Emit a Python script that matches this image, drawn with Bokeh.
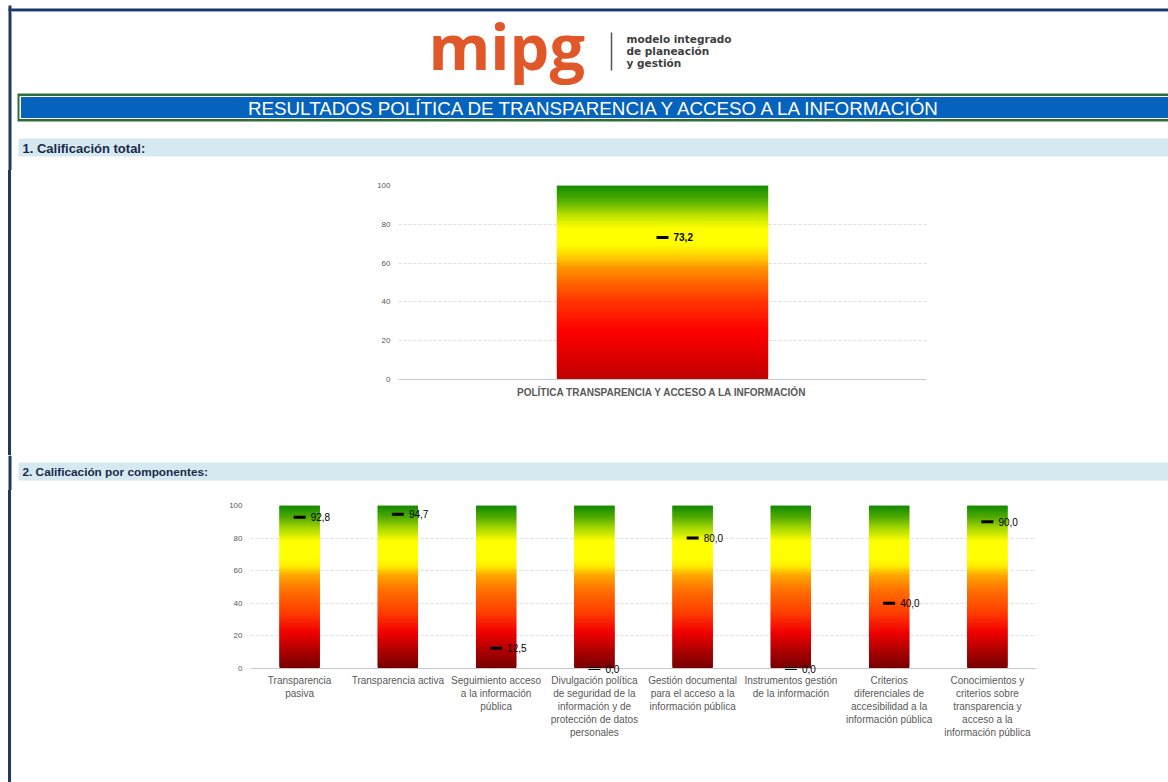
from bokeh.plotting import figure
from bokeh.layouts import row
from bokeh.models import Range1d, FactorRange, ColumnDataSource, LabelSet, Spacer, Span
from bokeh.core.properties import value
from bokeh.embed import file_html
from bokeh.resources import INLINE

# ---------------- data ----------------
total_category = ["POLÍTICA TRANSPARENCIA Y ACCESO A LA INFORMACIÓN"]
total_score = [73.2]

component_labels = [
    "Transparencia\npasiva",
    "Transparencia activa",
    "Seguimiento acceso\na la información\npública",
    "Divulgación política\nde seguridad de la\ninformación y de\nprotección de datos\npersonales",
    "Gestión documental\npara el acceso a la\ninformación pública",
    "Instrumentos gestión\nde la información",
    "Criterios\ndiferenciales de\naccesibilidad a la\ninformación pública",
    "Conocimientos y\ncriterios sobre\ntransparencia y\nacceso a la\ninformación pública",
]
component_scores = [92.8, 94.7, 12.5, 0.0, 80.0, 0.0, 40.0, 90.0]

scale_max = 100
y_ticks = [0, 20, 40, 60, 80, 100]

title_text = "RESULTADOS POLÍTICA DE TRANSPARENCIA Y ACCESO A LA INFORMACIÓN"
section1_text = "1. Calificación total:"
section2_text = "2. Calificación por componentes:"
logo_word = "mipg"
logo_lines = ["modelo integrado", "de planeación", "y gestión"]

# ---------------- style ----------------
NAVY = "#1F3864"
FONT_NAME = "Liberation Sans"
FONT = value(FONT_NAME)
GRAY_TXT = "#595959"
PAGE_W = 1168

stops_total = [(0, "#C00000"), (15, "#E60000"), (25, "#FF0000"), (40, "#FF3300"),
               (50, "#FF6600"), (58, "#FF9900"), (65, "#FFDD00"), (70, "#FFFF00"),
               (78, "#FFFF00"), (85, "#B8E000"), (92, "#55B000"), (100, "#128C00")]
stops_comp = [(0, "#760000"), (10, "#A80000"), (22, "#F00000"), (35, "#FF4000"),
              (48, "#FF7000"), (57, "#FFA500"), (63, "#FFEE00"), (68, "#FFFF00"),
              (78, "#FFFF00"), (86, "#A8D800"), (93, "#50AA00"), (100, "#128A00")]


def hex2rgb(h):
    h = h.lstrip("#")
    return tuple(int(h[i:i + 2], 16) for i in (0, 2, 4))


def color_at(stops, v):
    for (a, ca), (b, cb) in zip(stops[:-1], stops[1:]):
        if a <= v <= b:
            t = 0 if b == a else (v - a) / (b - a)
            r1, g1, b1 = hex2rgb(ca)
            r2, g2, b2 = hex2rgb(cb)
            return "#%02x%02x%02x" % (round(r1 + (r2 - r1) * t), round(g1 + (g2 - g1) * t),
                                      round(b1 + (b2 - b1) * t))
    return stops[-1][1]


def gradient_bars(p, cats, width, stops, n=100):
    # each slice overlaps the next one, which is drawn on top -> no seams
    step = scale_max / n
    xs, bots, tops, cols = [], [], [], []
    for c in cats:
        for i in range(n):
            b = step * i
            xs.append(c)
            bots.append(b)
            tops.append(min(b + 2.5 * step, scale_max))
            cols.append(color_at(stops, b + step / 2))
    p.vbar(x=xs, bottom=bots, top=tops, width=width, fill_color=cols, line_color=None)


def fmt(v):
    return ("%.1f" % v).replace(".", ",")


def make_chart(cats, scores, width, height, left, right, top, data_px, pad_px, bar_w, stops,
               bold_label, cat_size, cat_bold, cat_standoff):
    y_start = -pad_px * scale_max / data_px
    bottom = height - top - data_px - pad_px
    p = figure(x_range=FactorRange(*cats), y_range=Range1d(y_start, scale_max),
               width=width, height=height, output_backend="svg", toolbar_location=None,
               min_border_left=left, min_border_right=right, min_border_top=top,
               min_border_bottom=bottom)
    p.outline_line_color = None
    p.background_fill_color = "white"
    p.border_fill_color = "white"
    p.xgrid.grid_line_color = None
    p.ygrid.grid_line_color = "#DDDDDD"
    p.ygrid.grid_line_dash = "3 2"
    p.yaxis.ticker = y_ticks
    p.yaxis.axis_line_color = None
    p.yaxis.major_tick_line_color = None
    p.yaxis.minor_tick_line_color = None
    p.yaxis.major_tick_out = 0
    p.yaxis.major_label_standoff = 8
    p.yaxis.major_label_text_font = FONT_NAME
    p.yaxis.major_label_text_font_size = "8px"
    p.yaxis.major_label_text_color = GRAY_TXT
    p.xaxis.axis_line_color = None
    p.xaxis.major_tick_line_color = None
    p.xaxis.major_tick_out = 0
    p.xaxis.major_label_standoff = cat_standoff
    p.xaxis.major_label_text_font = FONT_NAME
    p.xaxis.major_label_text_font_size = cat_size
    p.xaxis.major_label_text_color = GRAY_TXT
    p.xaxis.major_label_text_font_style = "bold" if cat_bold else "normal"
    p.xaxis.major_label_text_line_height = 1.2
    p.x_range.range_padding = 0
    gradient_bars(p, cats, bar_w, stops)
    # category baseline at zero
    p.add_layout(Span(location=0, dimension="width", line_color="#C8C8C8", line_width=1))
    p.scatter(x=cats, y=scores, marker="dash", size=12, line_color="black", line_width=3)
    src = ColumnDataSource(dict(x=cats, y=scores, t=[fmt(v) for v in scores]))
    p.add_layout(LabelSet(x="x", y="y", text="t", source=src, x_offset=11,
                          text_baseline="middle", text_font=value(FONT_NAME),
                          text_font_size="10px",
                          text_font_style="bold" if bold_label else "normal",
                          text_color="black"))
    return p


def band_fig(y0, y1, rule_top=None):
    f = figure(width=PAGE_W, height=y1 - y0, x_range=Range1d(0, PAGE_W),
               y_range=Range1d(y1, y0), output_backend="svg", toolbar_location=None,
               min_border=0, x_axis_type=None, y_axis_type=None)
    f.outline_line_color = None
    f.xgrid.visible = False
    f.ygrid.visible = False
    f.quad(left=[8], right=[11], top=[y0 if rule_top is None else rule_top], bottom=[y1],
           fill_color=NAVY, line_color=None)
    return f


def left_rule(h):
    return [Spacer(width=8, height=h),
            Spacer(width=3, height=h, styles={"background-color": NAVY})]


# ---------------- header (page y 0..170) ----------------
hdr = band_fig(0, 170, rule_top=5)
hdr.quad(left=[8], right=[PAGE_W], top=[8], bottom=[10.5], fill_color=NAVY, line_color=None)
hdr.quad(left=[11], right=[PAGE_W], top=[10.5], bottom=[11.5], fill_color="#8EA9DB",
         line_color=None)
# logo
hdr.text(x=[428], y=[45], text=[logo_word], text_font=value("Open Sans"),
         text_font_style="bold", text_font_size="63px", text_color="#E0582A",
         text_baseline="middle")
hdr.segment(x0=[611], y0=[32], x1=[611], y1=[70], line_color="#555555", line_width=1.5)
hdr.text(x=[626] * 3, y=[38, 50, 62], text=logo_lines, text_font=value("DejaVu Sans"),
         text_font_style="bold", text_font_size="10.5px", text_color="#404040",
         text_baseline="middle")
# title banner
hdr.quad(left=[17], right=[PAGE_W], top=[93], bottom=[121], fill_color="#2E6E3E", line_color=None)
hdr.quad(left=[19], right=[PAGE_W], top=[95.5], bottom=[118.5], fill_color="white",
         line_color=None)
hdr.quad(left=[20.5], right=[PAGE_W], top=[96.5], bottom=[117.5], fill_color="#0563BE",
         line_color=None)
hdr.text(x=[596], y=[107.5], text=[title_text], text_font=FONT, text_font_size="18.8px",
         text_color="white", text_align="center", text_baseline="middle")
# section 1 band
hdr.quad(left=[18], right=[PAGE_W], top=[138], bottom=[156], fill_color="#D6E9F0",
         line_color=None)
hdr.text(x=[22], y=[147.5], text=[section1_text], text_font=FONT, text_font_style="bold",
         text_font_size="13px", text_color="#1B2A4A", text_baseline="middle")

# ---------------- chart 1 (page y 170..455) ----------------
c1 = make_chart(total_category, total_score, width=PAGE_W - 11, height=285,
                left=387, right=242, top=15, data_px=194, pad_px=6, bar_w=0.4,
                stops=stops_total, bold_label=True, cat_size="10px", cat_bold=True,
                cat_standoff=1)

# ---------------- section 2 band (page y 455..490) ----------------
sec2 = band_fig(455, 490)
sec2.quad(left=[18], right=[PAGE_W], top=[462], bottom=[480], fill_color="#D6E9F0",
          line_color=None)
sec2.text(x=[22], y=[471.5], text=[section2_text], text_font=FONT, text_font_style="bold",
          text_font_size="11.8px", text_color="#1B2A4A", text_baseline="middle")

# ---------------- chart 2 (page y 490..782) ----------------
c2 = make_chart(component_labels, component_scores, width=PAGE_W - 11, height=292,
                left=239, right=132, top=15, data_px=163, pad_px=6, bar_w=0.41,
                stops=stops_comp, bold_label=False, cat_size="10px", cat_bold=False,
                cat_standoff=0)

roots = [
    hdr,
    row(*left_rule(285), c1, spacing=0),
    sec2,
    row(*left_rule(292), c2, spacing=0),
]

open("out.html", "w").write(file_html(roots, INLINE))
